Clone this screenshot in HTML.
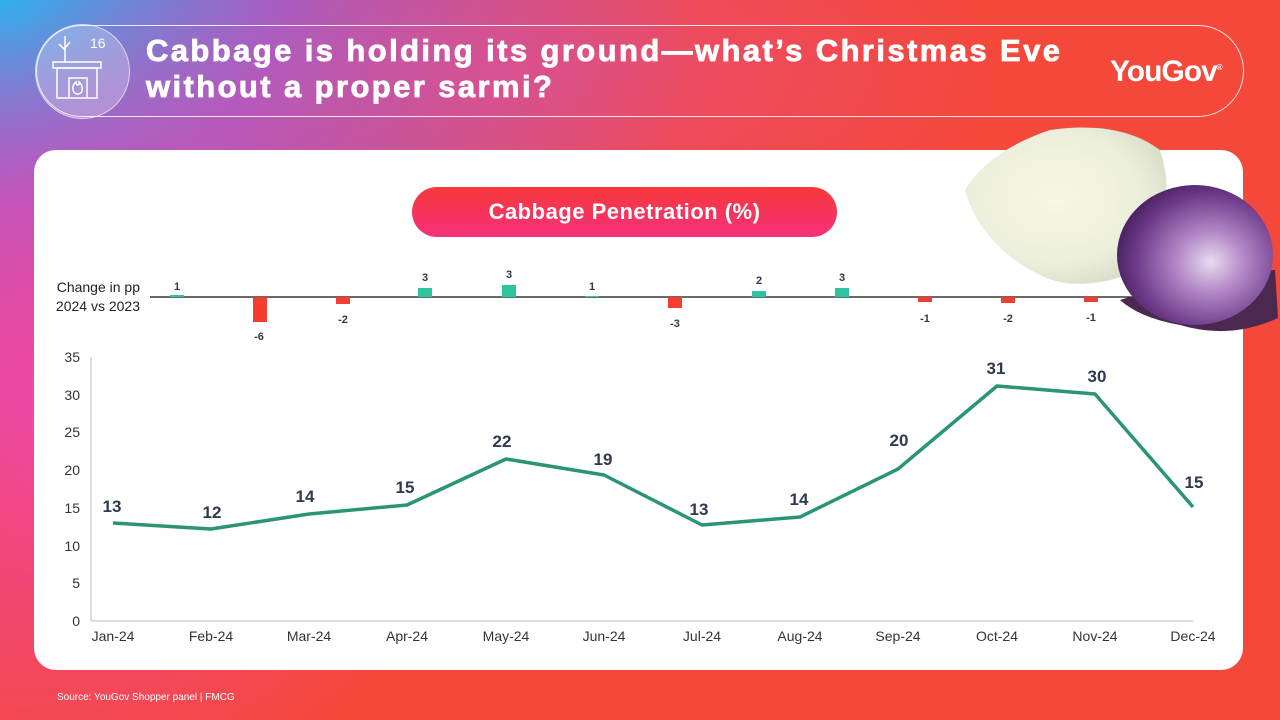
<!DOCTYPE html>
<html><head><meta charset="utf-8"><style>
*{margin:0;padding:0;box-sizing:border-box}
body{width:1280px;height:720px;overflow:hidden;position:relative;font-family:"Liberation Sans",sans-serif;background:#f4483a;}
.bg1{position:absolute;inset:0;background:radial-gradient(ellipse 700px 500px at 0% 0%,#27b5f0 0%,rgba(140,100,220,.9) 40%,rgba(220,80,180,0) 100%);}
.bg2{position:absolute;inset:0;background:radial-gradient(ellipse 420px 420px at 5% 55%,rgba(240,70,170,.95),rgba(240,70,140,0));}
.bg3{position:absolute;inset:0;background:radial-gradient(ellipse 500px 200px at 40% 10%,rgba(225,80,160,.6),rgba(225,80,160,0));}
.hdr{position:absolute;left:36px;top:25px;width:1208px;height:92px;border:1.5px solid rgba(255,255,255,.85);border-radius:46px;}
.circ{position:absolute;left:35px;top:24px;width:95px;height:95px;border-radius:50%;background:rgba(255,255,255,.25);border:1.5px solid rgba(255,255,255,.6)}
.title{position:absolute;left:146px;top:33px;color:#fff;font-weight:bold;font-size:31px;line-height:36px;letter-spacing:2.4px;-webkit-text-stroke:0.8px #fff}
.logo{position:absolute;left:1110px;top:55px;color:#fff;font-weight:bold;font-size:30px;letter-spacing:-1px}
.card{position:absolute;left:34px;top:150px;width:1209px;height:520px;background:#fff;border-radius:22px}
.pill{position:absolute;left:412px;top:187px;width:425px;height:50px;border-radius:25px;background:linear-gradient(180deg,#f6393a,#f5307a);color:#fff;font-weight:bold;font-size:22px;text-align:center;line-height:50px;letter-spacing:.5px}
.src{position:absolute;left:57px;top:692px;color:#fff;font-size:10px}
</style></head><body>
<div class="bg1"></div><div class="bg2"></div><div class="bg3"></div>
<div class="hdr"></div>
<div class="circ"></div>
<svg style="position:absolute;left:35px;top:24px" width="95" height="95" viewBox="0 0 95 95" fill="none" stroke="#fff" stroke-width="1.5">
<path d="M30 38 V12 M30 26 L24 20 M30 24 L35 18"/>
<rect x="18" y="38" width="48" height="6"/><rect x="22" y="44" width="40" height="30"/>
<path d="M34 74 V54 H52 V74"/><path d="M43 70 c-6 0-7-8-2-12 c0 4 4 4 3 0 c4 3 5 12-1 12z"/>
<text x="55" y="24" fill="#fff" stroke="none" font-size="14" font-family="Liberation Sans">16</text></svg>
<div class="title">Cabbage is holding its ground—what’s Christmas Eve<br>without a proper sarmi?</div>
<div class="logo">YouGov<sup style="font-size:8px">®</sup></div>
<div class="card"></div>
<div class="pill">Cabbage Penetration (%)</div>
<svg style="position:absolute;left:0;top:0" width="1280" height="720" font-family="Liberation Sans">
<text x="140" y="292" font-size="14" text-anchor="end" fill="#222">Change in pp</text>
<text x="140" y="311" font-size="14" text-anchor="end" fill="#222">2024 vs 2023</text>
<line x1="150" y1="297" x2="1170" y2="297" stroke="#111" stroke-width="1.3"/>
<g font-size="11" font-weight="bold" fill="#2d3a4f" text-anchor="middle">
<rect x="170" y="295" width="14" height="2" fill="#2ec4a0"/><text x="177" y="290">1</text>
<rect x="253" y="297" width="14" height="25" fill="#f43c2f"/><text x="259" y="340">-6</text>
<rect x="336" y="297" width="14" height="7" fill="#f43c2f"/><text x="343" y="323">-2</text>
<rect x="418" y="288" width="14" height="9" fill="#2ec4a0"/><text x="425" y="281">3</text>
<rect x="502" y="285" width="14" height="12" fill="#2ec4a0"/><text x="509" y="278">3</text>
<rect x="585" y="296" width="14" height="1" fill="#2ec4a0"/><text x="592" y="290">1</text>
<rect x="668" y="297" width="14" height="11" fill="#f43c2f"/><text x="675" y="327">-3</text>
<rect x="752" y="291" width="14" height="6" fill="#2ec4a0"/><text x="759" y="284">2</text>
<rect x="835" y="288" width="14" height="9" fill="#2ec4a0"/><text x="842" y="281">3</text>
<rect x="918" y="297" width="14" height="5" fill="#f43c2f"/><text x="925" y="322">-1</text>
<rect x="1001" y="297" width="14" height="6" fill="#f43c2f"/><text x="1008" y="322">-2</text>
<rect x="1084" y="297" width="14" height="5" fill="#f43c2f"/><text x="1091" y="321">-1</text>
</g>
<line x1="91" y1="357" x2="91" y2="621" stroke="#bbb"/>
<line x1="91" y1="621" x2="1193" y2="621" stroke="#bbb"/>
<g font-size="14" fill="#333" text-anchor="end">
<text x="80" y="626">0</text><text x="80" y="588">5</text><text x="80" y="551">10</text><text x="80" y="513">15</text><text x="80" y="475">20</text><text x="80" y="437">25</text><text x="80" y="400">30</text><text x="80" y="362">35</text></g>
<g font-size="14" fill="#333" text-anchor="middle">
<text x="113" y="641">Jan-24</text><text x="211" y="641">Feb-24</text><text x="309" y="641">Mar-24</text><text x="407" y="641">Apr-24</text><text x="506" y="641">May-24</text><text x="604" y="641">Jun-24</text><text x="702" y="641">Jul-24</text><text x="800" y="641">Aug-24</text><text x="898" y="641">Sep-24</text><text x="997" y="641">Oct-24</text><text x="1095" y="641">Nov-24</text><text x="1193" y="641">Dec-24</text></g>
<polyline fill="none" stroke="#2a9478" stroke-width="3.5" stroke-linejoin="round" points="113,523 211,529 309,514 407,505 506,459 604,475 702,525 800,517 898,469 997,386 1095,394 1193,507"/>
<g font-size="17" font-weight="bold" fill="#2d3a4f" text-anchor="middle">
<text x="112" y="512">13</text><text x="212" y="518">12</text><text x="305" y="502">14</text><text x="405" y="493">15</text><text x="502" y="447">22</text><text x="603" y="465">19</text><text x="699" y="515">13</text><text x="799" y="505">14</text><text x="899" y="446">20</text><text x="996" y="374">31</text><text x="1097" y="382">30</text><text x="1194" y="488">15</text></g>
<defs><radialGradient id="w" cx=".45" cy=".45" r=".6"><stop offset="0" stop-color="#f8f6e4"/><stop offset=".7" stop-color="#ecefdc"/><stop offset="1" stop-color="#d8ddc8"/></radialGradient>
<radialGradient id="p" cx=".6" cy=".55" r=".6"><stop offset="0" stop-color="#e8dcef"/><stop offset=".35" stop-color="#b48ac8"/><stop offset=".8" stop-color="#6d3a8a"/><stop offset="1" stop-color="#4d2464"/></radialGradient></defs>
<path d="M1120 300 Q1200 275 1275 270 L1278 318 Q1230 340 1180 325 Q1140 318 1120 300z" fill="#4a2850"/>
<path d="M965 190 Q990 150 1050 130 Q1120 120 1160 150 Q1180 210 1140 270 Q1080 295 1040 275 Q980 245 965 190z" fill="url(#w)"/>
<ellipse cx="1195" cy="255" rx="78" ry="70" fill="url(#p)"/>
</svg>
<div class="src">Source: YouGov Shopper panel | FMCG</div>
</body></html>
